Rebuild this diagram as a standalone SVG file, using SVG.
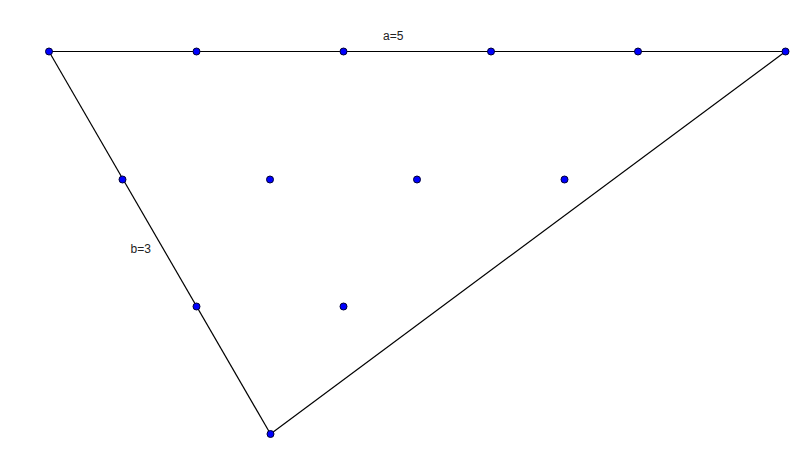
<svg xmlns="http://www.w3.org/2000/svg" width="800" height="449" viewBox="0 0 800 449">
<style>
.edge{stroke:#000;stroke-width:1.2;fill:none}
.pt{fill:#0000ff;stroke:#000033;stroke-width:1}
.lbl{font-family:"Liberation Sans",Arial,sans-serif;font-size:12px;fill:#222}
</style>
<rect width="800" height="449" fill="#fff"/>
<g id="connectors">
<line class="edge" x1="49" y1="51.5" x2="785.5" y2="51.5"/>
<line class="edge" x1="49" y1="51.5" x2="270.5" y2="434"/>
<line class="edge" x1="270.5" y1="434" x2="785.5" y2="51.5"/>
</g>
<g id="labels">
<text class="lbl" x="383" y="40">a=5</text>
<text class="lbl" x="130.5" y="253">b=3</text>
</g>
<g id="p1"><circle class="pt" cx="49" cy="51.5" r="3.5"/></g>
<g id="p2"><circle class="pt" cx="196.5" cy="51.5" r="3.5"/></g>
<g id="p3"><circle class="pt" cx="343.5" cy="51.5" r="3.5"/></g>
<g id="p4"><circle class="pt" cx="491" cy="51.5" r="3.5"/></g>
<g id="p5"><circle class="pt" cx="638" cy="51.5" r="3.5"/></g>
<g id="p6"><circle class="pt" cx="785.5" cy="51.5" r="3.5"/></g>
<g id="p7"><circle class="pt" cx="122.5" cy="179.5" r="3.5"/></g>
<g id="p8"><circle class="pt" cx="270" cy="179.5" r="3.5"/></g>
<g id="p9"><circle class="pt" cx="417" cy="179.5" r="3.5"/></g>
<g id="p10"><circle class="pt" cx="564.5" cy="179.5" r="3.5"/></g>
<g id="p11"><circle class="pt" cx="196.5" cy="306.5" r="3.5"/></g>
<g id="p12"><circle class="pt" cx="343.5" cy="306.5" r="3.5"/></g>
<g id="p13"><circle class="pt" cx="270.5" cy="434" r="3.5"/></g>
</svg>
